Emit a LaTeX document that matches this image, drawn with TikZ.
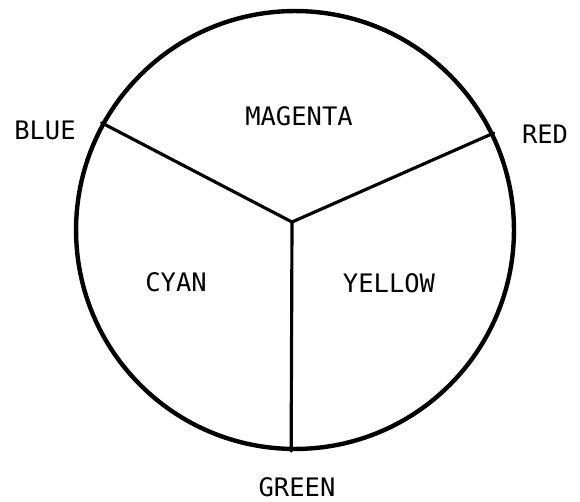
\documentclass[tikz,border=0pt]{standalone}
\usepackage{fontspec}
\setmonofont{DejaVu Sans Mono}
\usepackage{tikz}
\usetikzlibrary{positioning,calc}
\tikzset{
  wheel/.style  ={draw, circle, minimum size=8.76cm, inner sep=0pt,
                  line width=2.5pt},
  spoke/.style  ={line width=1.8pt, line cap=round},
  lbl/.style    ={font=\ttfamily\fontsize{14.5}{16}\selectfont, inner sep=0pt},
}

\begin{document}
\begin{tikzpicture}[x=0.02cm,y=-0.02cm]
  \useasboundingbox (0,0) rectangle (580,502);
  \node[wheel] (disk) at (295,230) {};
  \coordinate (hub) at (292,222);
  % outer labels
  \node[lbl] (blue)  at (45,130)  {BLUE};
  \node[lbl] (red)   at (545,134) {RED};
  \node[lbl] (green) at (297,487) {GREEN};
  % inner labels
  \node[lbl] (magenta) at (299,116) {MAGENTA};
  \node[lbl] (cyan)    at (176,282) {CYAN};
  \node[lbl] (yellow)  at (389,283) {YELLOW};
  \draw[spoke](hub)--(disk.151.3);
  \draw[spoke](hub)--(disk.26.5);
  \draw[spoke](hub)--(disk.269.5);
\end{tikzpicture}
\end{document}
